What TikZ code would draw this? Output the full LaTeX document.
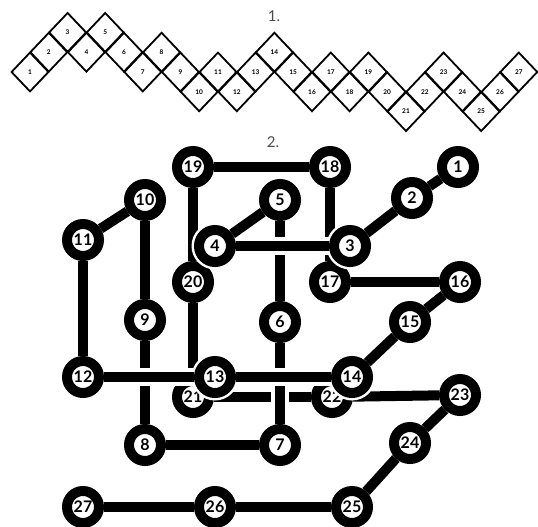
\documentclass[tikz,border=0pt]{standalone}
\usepackage{fontspec}
\setmainfont{Lato}
\usepackage{tikz}
\usetikzlibrary{shapes.geometric}
\pgfdeclarelayer{under}
\pgfdeclarelayer{halo}
\pgfdeclarelayer{mid}
\pgfsetlayers{under,halo,mid,main}

\begin{document}
\begin{tikzpicture}[x=1pt, y=-1pt,
  cell/.style={draw, shape=diamond, aspect=1, minimum width=37.6pt, minimum height=39.6pt, inner sep=0pt, line width=1.8pt, font=\fontsize{6.5}{6.5}\selectfont\bfseries},
  dot/.style={circle, draw, fill=white, line width=10pt, minimum size=32pt, inner sep=0pt, font=\fontsize{16}{16}\selectfont\bfseries},
  link/.style={line width=10pt},
  overlink/.style={line width=10pt, preaction={draw=white, line width=18pt}},
  caption/.style={font=\fontsize{15}{15}\selectfont, text=black!70}]
\useasboundingbox (0,0) rectangle (538,527);
% 1. the folded strip
\node[caption] (cap1) at (274,16) {1.};
\node[cell] (c1) at (30,72) {1};
\node[cell] (c2) at (48.8,52.2) {2};
\node[cell] (c3) at (67.6,32.4) {3};
\node[cell] (c4) at (86.4,52.2) {4};
\node[cell] (c5) at (105.2,32.4) {5};
\node[cell] (c6) at (124,52.2) {6};
\node[cell] (c7) at (142.8,72) {7};
\node[cell] (c8) at (161.6,52.2) {8};
\node[cell] (c9) at (180.4,72) {9};
\node[cell] (c10) at (199.2,91.8) {10};
\node[cell] (c11) at (218,72) {11};
\node[cell] (c12) at (236.8,91.8) {12};
\node[cell] (c13) at (255.6,72) {13};
\node[cell] (c14) at (274.4,52.2) {14};
\node[cell] (c15) at (293.2,72) {15};
\node[cell] (c16) at (312,91.8) {16};
\node[cell] (c17) at (330.8,72) {17};
\node[cell] (c18) at (349.6,91.8) {18};
\node[cell] (c19) at (368.4,72) {19};
\node[cell] (c20) at (387.2,91.8) {20};
\node[cell] (c21) at (406,111.6) {21};
\node[cell] (c22) at (424.8,91.8) {22};
\node[cell] (c23) at (443.6,72) {23};
\node[cell] (c24) at (462.4,91.8) {24};
\node[cell] (c25) at (481.2,111.6) {25};
\node[cell] (c26) at (500,91.8) {26};
\node[cell] (c27) at (518.8,72) {27};
% 2. the knot of beads
\node[caption] (cap2) at (273,142) {2.};
\begin{pgfonlayer}{under}
\node[dot] (n17) at (330,282) {17};
\node[dot] (n20) at (193,282) {20};
\node[dot] (n21) at (193,397) {21};
\node[dot] (n22) at (332,397) {22};
\end{pgfonlayer}
\node[dot] (n1) at (458,167) {1};
\node[dot] (n2) at (412,198) {2};
\node[dot] (n3) at (350,246) {3};
\node[dot] (n4) at (215,246) {4};
\node[dot] (n5) at (280,200) {5};
\node[dot] (n6) at (280,322) {6};
\node[dot] (n7) at (280,445) {7};
\node[dot] (n8) at (145,445) {8};
\node[dot] (n9) at (145,320) {9};
\node[dot] (n10) at (145,200) {10};
\node[dot] (n11) at (83,240) {11};
\node[dot] (n12) at (83,377) {12};
\node[dot] (n13) at (215,377) {13};
\node[dot] (n14) at (352,377) {14};
\node[dot] (n15) at (410,322) {15};
\node[dot] (n16) at (460,282) {16};
\node[dot] (n18) at (330,167) {18};
\node[dot] (n19) at (193,167) {19};
\node[dot] (n23) at (460,395) {23};
\node[dot] (n24) at (410,443) {24};
\node[dot] (n25) at (352,507) {25};
\node[dot] (n26) at (215,507) {26};
\node[dot] (n27) at (83,507) {27};
% strands that run underneath
\begin{pgfonlayer}{under}
\draw[link] (n16) -- (n17);
\draw[link] (n17) -- (n18);
\draw[link] (n19) -- (n20);
\draw[link] (n20) -- (n21);
\draw[link] (n21) -- (n22);
\draw[link] (n22) -- (n23);
\draw[link] (n5) -- (n6);
\draw[link] (n8) -- (n9);
\end{pgfonlayer}
% white rims round the beads that lie on top
\begin{pgfonlayer}{halo}
\fill[white] (n3) circle (23.5pt);
\fill[white] (n4) circle (23.5pt);
\fill[white] (n13) circle (23.5pt);
\fill[white] (n14) circle (23.5pt);
\end{pgfonlayer}
\begin{pgfonlayer}{mid}
\draw[overlink] (n3) -- (n4);
\draw[overlink] (n6) -- (n7);
\draw[overlink] (n12) -- (n13);
\draw[overlink] (n13) -- (n14);
\draw[link] (n1) -- (n2);
\draw[link] (n2) -- (n3);
\draw[link] (n4) -- (n5);
\draw[link] (n7) -- (n8);
\draw[link] (n9) -- (n10);
\draw[link] (n10) -- (n11);
\draw[link] (n11) -- (n12);
\draw[link] (n14) -- (n15);
\draw[link] (n15) -- (n16);
\draw[link] (n18) -- (n19);
\draw[link] (n23) -- (n24);
\draw[link] (n24) -- (n25);
\draw[link] (n25) -- (n26);
\draw[link] (n26) -- (n27);
\end{pgfonlayer}
\end{tikzpicture}
\end{document}
